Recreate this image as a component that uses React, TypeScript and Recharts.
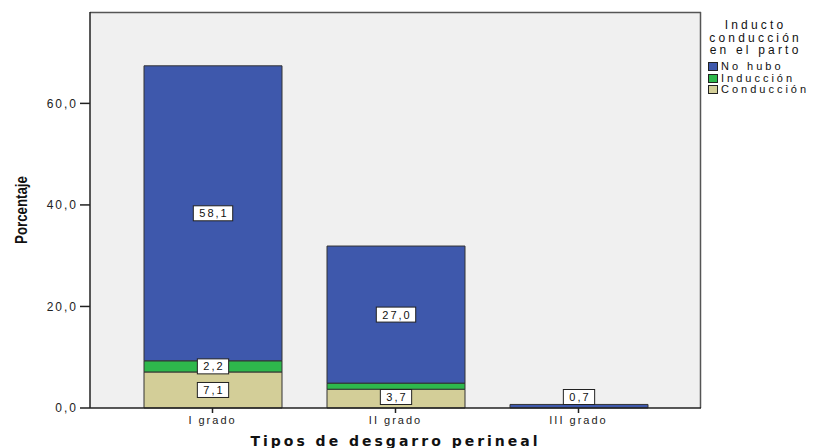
import { BarChart, Bar, XAxis, YAxis, CartesianGrid, LabelList } from "recharts";

// Tipos de desgarro perineal, porcentaje por inducto/conducción
const CATEGORIES = ["I grado", "II grado", "III grado"];
const NO_HUBO = [58.1, 27.0, 0.7];
const INDUCCION = [2.2, 1.2, 0];
const CONDUCCION = [7.1, 3.7, 0];
const Y_TICKS = [0, 20, 40, 60];

const CHART_W = 808;
const CHART_H = 440;
const MARGIN = { top: 4, right: 115, bottom: 0, left: 0 };
const Y_AXIS_W = 82;
const X_AXIS_H = 40;
const PLOT_TOP = MARGIN.top;
const PLOT_RIGHT = CHART_W - MARGIN.right;
const PLOT_BOTTOM = CHART_H - MARGIN.bottom - X_AXIS_H;

const SERIES = [
  { key: "conduccion", name: "Conducción", color: "#d3ce98" },
  { key: "induccion", name: "Inducción", color: "#2eb84c" },
  { key: "noHubo", name: "No hubo", color: "#3e58ac" },
];

const data = CATEGORIES.map((cat, i) => ({
  cat,
  noHubo: NO_HUBO[i],
  induccion: INDUCCION[i],
  conduccion: CONDUCCION[i],
}));

const fmt = (v: number) => v.toFixed(1).replace(".", ",");

const FONT = "'Liberation Sans', Arial, sans-serif";

const ValueLabel = (props: any) => {
  const { x, y, width, height, value, index } = props;
  if (!value) return null;
  const h = Math.abs(height);
  const segs = [NO_HUBO[index], INDUCCION[index], CONDUCCION[index]].filter(
    (v) => v > 0
  ).length;
  // thin segments in a multi-part bar get no label
  if (h < 8 && segs > 1) return null;
  const top = Math.min(y, y + height);
  const cx = x + width / 2;
  const cy = Math.min(top + h / 2, PLOT_BOTTOM - 11);
  const txt = fmt(value);
  const w =
    txt.split("").reduce((s, c) => s + (c === "," ? 5.1 : 8.1), 0) - 2 + 12;
  return (
    <g>
      <rect
        x={cx - w / 2}
        y={cy - 7.5}
        width={w}
        height={15}
        fill="#fff"
        stroke="#222"
        strokeWidth={1}
      />
      <text
        x={cx + 1}
        y={cy + 4}
        textAnchor="middle"
        fontSize={11}
        fontFamily={FONT}
        letterSpacing={2}
        fill="#111"
      >
        {txt}
      </text>
    </g>
  );
};

const YTitle = () => {
  const cy = (PLOT_TOP + PLOT_BOTTOM) / 2;
  return (
    <text
      transform={`translate(14 ${cy}) rotate(-90) scale(0.83 1)`}
      textAnchor="middle"
      dominantBaseline="central"
      fontSize={16}
      fontWeight="bold"
      fontFamily={FONT}
      fill="#111"
    >
      Porcentaje
    </text>
  );
};

const legendTitle = ["Inducto", "conducción", "en el parto"];

export default function App() {
  return (
    <div style={{ position: "relative", width: CHART_W, height: CHART_H }}>
      <BarChart
        width={CHART_W}
        height={CHART_H}
        data={data}
        margin={MARGIN}
        barSize={138}
      >
        <CartesianGrid
          fill="#f0f0f0"
          stroke="#555"
          strokeWidth={1.5}
          horizontalPoints={[PLOT_TOP + 0.5]}
          verticalPoints={[PLOT_RIGHT - 0.5]}
        />
        <XAxis
          dataKey="cat"
          padding={{ left: 31, right: 31 }}
          height={X_AXIS_H}
          tickSize={5}
          tickMargin={3}
          axisLine={{ stroke: "#222", strokeWidth: 1.5 }}
          tickLine={{ stroke: "#222", strokeWidth: 1.5 }}
          tick={{
            fontSize: 11,
            fill: "#222",
            fontFamily: FONT,
            letterSpacing: 2,
          }}
          label={{
            value: "Tipos de desgarro perineal",
            position: "insideBottom",
            offset: 2,
            fontSize: 14,
            fontWeight: "bold",
            fill: "#111",
            fontFamily: "'DejaVu Sans', sans-serif",
            letterSpacing: 3,
          }}
        />
        <YAxis
          domain={[0, 78]}
          ticks={Y_TICKS}
          width={Y_AXIS_W}
          tickSize={10}
          tickMargin={2}
          tickFormatter={fmt}
          axisLine={{ stroke: "#222", strokeWidth: 1.5 }}
          tickLine={{ stroke: "#222", strokeWidth: 1.5 }}
          tick={{
            fontSize: 12,
            fill: "#222",
            fontFamily: FONT,
            letterSpacing: 2,
          }}
          label={{ content: () => <YTitle /> }}
        />
        {SERIES.map((s) => (
          <Bar
            key={s.key}
            dataKey={s.key}
            name={s.name}
            stackId="a"
            fill={s.color}
            stroke="#333"
            strokeWidth={1}
            isAnimationActive={false}
          >
            <LabelList dataKey={s.key} content={<ValueLabel />} />
          </Bar>
        ))}
      </BarChart>
      <div
        style={{
          position: "absolute",
          left: 686,
          top: 11,
          width: 120,
          textAlign: "center",
          fontFamily: FONT,
          fontSize: 12,
          lineHeight: "12.5px",
          letterSpacing: 3.2,
          color: "#111",
        }}
      >
        {legendTitle.map((l) => (
          <div key={l} style={{ marginRight: -3.2 }}>
            {l}
          </div>
        ))}
      </div>
      <div
        style={{
          position: "absolute",
          left: 700,
          top: 53,
          fontFamily: FONT,
          fontSize: 11,
          letterSpacing: 3,
          color: "#111",
        }}
      >
        {[...SERIES].reverse().map((s) => (
          <div
            key={s.key}
            style={{ display: "flex", alignItems: "center", height: 11.4 }}
          >
            <span
              style={{
                display: "inline-block",
                width: 10,
                height: 9,
                background: s.color,
                border: "1px solid #222",
                marginRight: 3,
                boxSizing: "border-box",
              }}
            />
            <span style={{ lineHeight: "11px" }}>{s.name}</span>
          </div>
        ))}
      </div>
    </div>
  );
}
